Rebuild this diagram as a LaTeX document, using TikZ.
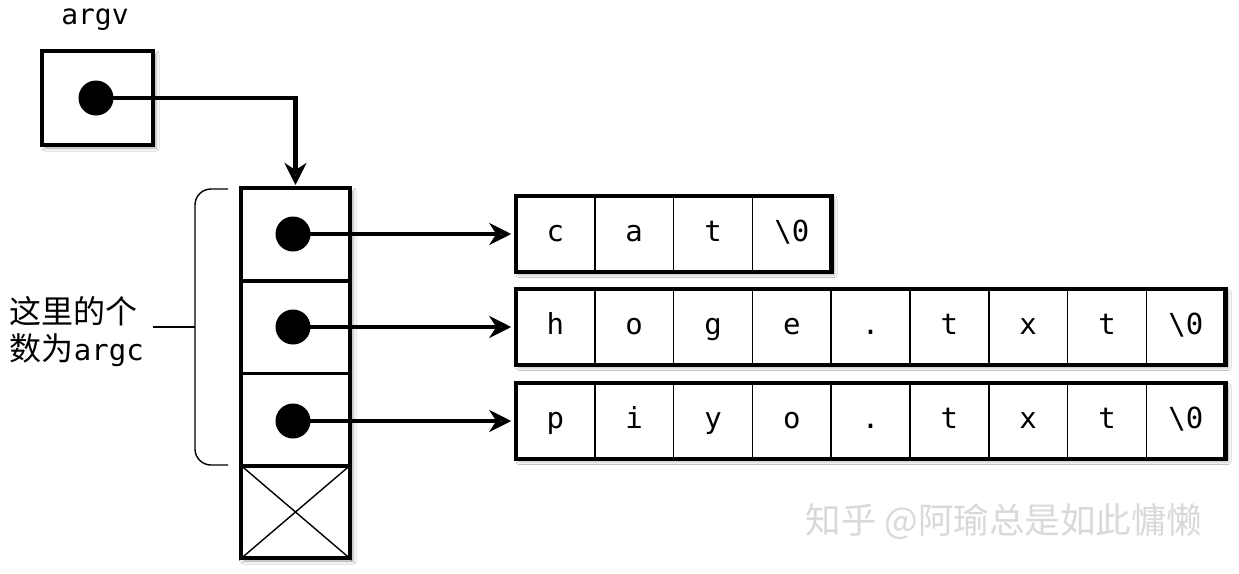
\documentclass[tikz,border=0pt]{standalone}
\usepackage{fontspec}
\setmonofont{DejaVu Sans Mono}
\newfontfamily\cjk{Noto Sans CJK SC}
\usetikzlibrary{arrows.meta,shadows.blur,calc}
\begin{document}
\begin{tikzpicture}[x=1pt,y=-1pt,
  shad/.style={blur shadow={shadow xshift=3pt,shadow yshift=-3pt,shadow opacity=35,shadow blur radius=3pt}},
  outerbox/.style={draw,line width=3.5pt,fill=white,shad},
  thickframe/.style={draw,line width=3.5pt},
  arrcell/.style={draw,line width=3.5pt,minimum width=109pt,minimum height=92.5pt,inner sep=0pt},
  cell/.style={draw,line width=1.5pt,minimum width=78.8pt,minimum height=75pt,inner sep=0pt,
    text height=21pt,text depth=6pt,font=\ttfamily\fontsize{29}{29}\selectfont},
  dot/.style={circle,fill=black,minimum size=35pt,inner sep=0pt},
  conn/.style={line width=4.5pt,-{Stealth[length=22pt,width=22pt,inset=7pt]}},
  thinline/.style={line width=1.4pt},
  lbl/.style={font=\ttfamily\fontsize{28}{28}\selectfont}
]
\useasboundingbox (0,0) rectangle (1239,573);
\fill[white] (0,0) rectangle (1239,573);

% watermark
\node[text=gray!30,font=\cjk\fontsize{35.5}{35.5}\selectfont] (wm) at (1004,522) {知乎 @阿瑜总是如此慵懒};

% argv box
\node[lbl] (argvlbl) at (95,20) {argv};
\node[outerbox,minimum width=111pt,minimum height=94pt,inner sep=0pt] (argvbox) at (97.5,98) {};

% array column
\path[outerbox] (241,188) rectangle (350,558);
\node[arrcell] (a1) at (295.5,234.5) {};
\node[arrcell] (a2) at (295.5,327) {};
\node[arrcell] (a3) at (295.5,419.5) {};
\node[arrcell] (a4) at (295.5,512) {};
\draw[thinline] (a4.north west) -- (a4.south east);
\draw[thinline] (a4.north east) -- (a4.south west);

% brace and label
\coordinate (bt) at (228,189);
\coordinate (bm) at (195,327);
\coordinate (bb) at (228,465);
\coordinate (bl) at (153,327);
\draw[thinline,rounded corners=16pt] (bt) -| (bm) |- (bb);
\draw[thinline] (bl) -- (bm);
\node[align=left,anchor=east,inner sep=0pt,font=\cjk\fontsize{32}{37}\selectfont] (lab) at (144,332) {这里的个\\数为{\ttfamily\fontsize{29}{37}\selectfont argc}};

% strings
\foreach \r/\yy/\lst/\n in {1/234/{c,a,t,\textbackslash 0}/4,
                            2/327/{h,o,g,e,.,t,x,t,\textbackslash 0}/9,
                            3/421/{p,i,y,o,.,t,x,t,\textbackslash 0}/9}{
  \path[outerbox] (516,\yy-37.5) rectangle ({516+78.8*\n},\yy+37.5);
  \foreach \ch [count=\i] in \lst {
    \node[cell] (s\r-\i) at ({555.4+78.8*(\i-1)},\yy) {\ch};
  }
  \draw[thickframe] (s\r-1.north west) rectangle (s\r-\n.south east);
}

% dots
\node[dot] (argvdot) at (96,98) {};
\node[dot] (d1) at (293,234) {};
\node[dot] (d2) at (293,327) {};
\node[dot] (d3) at (293,421) {};

% connectors
\draw[conn,shorten >=1.5pt] (argvdot.center) -| (a1.north);
\draw[conn,shorten >=4pt] (d1.center) -- (s1-1.west);
\draw[conn,shorten >=4pt] (d2.center) -- (s2-1.west);
\draw[conn,shorten >=4pt] (d3.center) -- (s3-1.west);
\end{tikzpicture}
\end{document}
